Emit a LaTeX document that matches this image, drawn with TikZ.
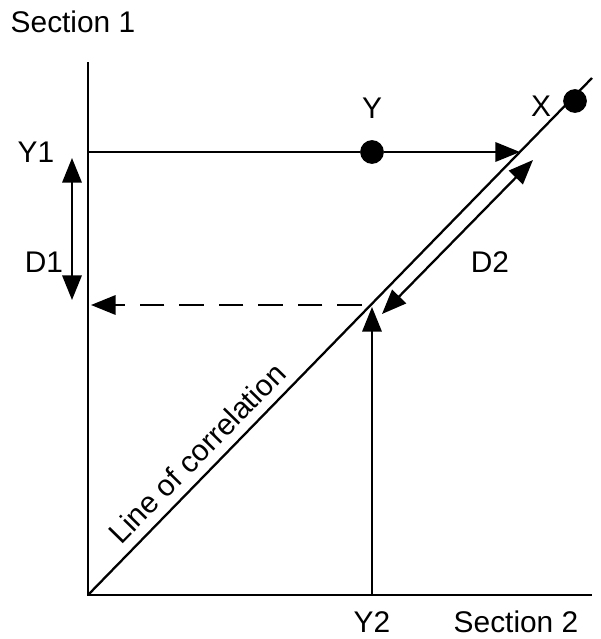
\documentclass[tikz,border=0pt]{standalone}
\usepackage{fontspec}
\setmainfont{Liberation Sans}
\usetikzlibrary{arrows.meta,positioning}
\definecolor{ink}{HTML}{000000}
\tikzset{>={Triangle[length=14pt,width=11pt]},line width=1.3pt,
  every node/.style={font=\fontsize{17}{20}\selectfont,text=ink},
  axis/.style={draw=ink,line width=1.3pt},
  flow/.style={->,draw=ink,line width=1.3pt},
  span/.style={<->,draw=ink,line width=1.3pt},
  back/.style={->,draw=ink,line width=1.3pt,dash pattern=on 14pt off 8.5pt},
  point/.style={circle,fill=ink,inner sep=0pt,minimum size=13.5pt}}
\begin{document}
\begin{tikzpicture}[x=0.02cm,y=-0.02cm]
\useasboundingbox (0,0) rectangle (600,639);
% axes and the line of correlation
\coordinate (origin) at (88,595);
\coordinate (top) at (88,62);
\coordinate (right) at (592,595);
\coordinate (far) at (592,78);
\draw[axis] (top)--(origin)--(right);
\draw[axis] (origin)--(far);
\node (sec1) at (73,22) {Section 1};
\node (sec2) at (516,622) {Section 2};
\node[rotate=45.6] (corr) at (197,453) {Line of correlation};
% points
\node[point] (ydot) at (372,152) {};
\node[point] (xdot) at (575,101) {};
\node (ylab) at (372,108) {Y};
\node (xlab) at (541,106) {X};
% projections
\coordinate (y1) at (88,152);
\coordinate (hit) at (520,152);
\coordinate (y2) at (372,595);
\coordinate (meet) at (372,307);
\coordinate (dstart) at (362,305);
\coordinate (dend) at (91,305);
\draw[axis] (y1)--(ydot);
\draw[flow] (ydot)--(hit);
\draw[flow] (y2)--(meet);
\draw[back] (dstart)--(dend);
\node (y1lab) at (36,152) {Y1};
\node (y2lab) at (372,622) {Y2};
% distances
\coordinate (d1top) at (72,158);
\coordinate (d1bot) at (72,300);
\draw[span] (d1top)--(d1bot);
\node (d1lab) at (44,262) {D1};
\coordinate (d2low) at (382,314);
\coordinate (d2high) at (533,160);
\draw[span] (d2low)--(d2high);
\node (d2lab) at (490,262) {D2};
\end{tikzpicture}
\end{document}
